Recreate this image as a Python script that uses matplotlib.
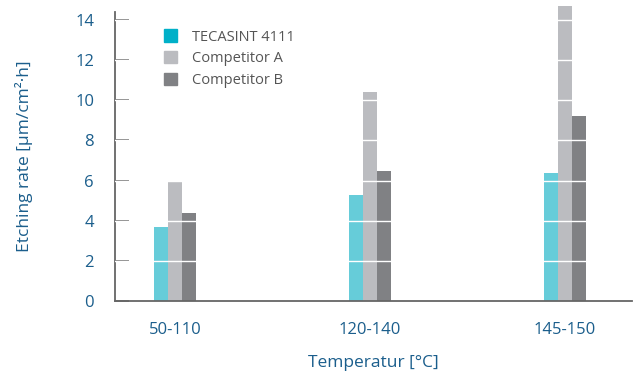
import matplotlib.pyplot as plt
from matplotlib.patches import Patch

temperaturas = ['50-110', '120-140', '145-150']
tecasint = [3.7, 5.3, 6.4]
competidor_a = [6.0, 10.4, 14.7]
competidor_b = [4.4, 6.5, 9.2]
series = ['TECASINT 4111', 'Competitor A', 'Competitor B']

cor_texto = '#1b5e8c'
cores = ['#66ccd9', '#bbbcc0', '#808184']
cores_legenda = ['#00b0c8', '#bbbcc0', '#808184']

plt.rcParams['font.family'] = ['Open Sans', 'DejaVu Sans']

fig = plt.figure(figsize=(6.35, 3.74), dpi=100)
ax = fig.add_axes([0.181, 0.195, 0.814, 0.773])

x = range(len(temperaturas))
largura = 0.0718
for i, valores in enumerate([tecasint, competidor_a, competidor_b]):
    pos = [p + (i - 1) * largura for p in x]
    ax.bar(pos, valores, width=largura, color=cores[i], zorder=2, clip_on=False)

# linhas brancas sobre as barras
for y in [2, 4, 6, 8, 10, 12, 14]:
    ax.axhline(y, color='white', lw=1, zorder=3)

ax.set_xlim(-0.308, 2.344)
ax.set_ylim(0, 14.4)
ax.set_yticks(range(0, 15, 2))
ax.set_xticks(list(x))
ax.set_xticklabels(temperaturas)

ax.tick_params(axis='y', direction='in', length=10, width=1.2, color='#666666',
               labelcolor=cor_texto, labelsize=12, pad=15)
ax.tick_params(axis='x', length=0, labelcolor=cor_texto, labelsize=12, pad=15)

for lado in ['top', 'right']:
    ax.spines[lado].set_visible(False)
for lado in ['left', 'bottom']:
    ax.spines[lado].set_color('#666666')
    ax.spines[lado].set_linewidth(1.3)

ax.set_ylabel('Etching rate [µm/cm²·h]', color=cor_texto, fontsize=12.5, labelpad=30)
ax.set_xlabel('Temperatur [°C]', color=cor_texto, fontsize=12.5, labelpad=12)

handles = [Patch(color=c) for c in cores_legenda]
leg = ax.legend(handles, series, loc='upper left', bbox_to_anchor=(0.07, 0.985),
                frameon=False, handlelength=0.9, handleheight=0.9, handletextpad=1.0,
                labelspacing=0.45, fontsize=10.5)
for t in leg.get_texts():
    t.set_color('#555555')

fig.savefig('out.png', dpi=100)
